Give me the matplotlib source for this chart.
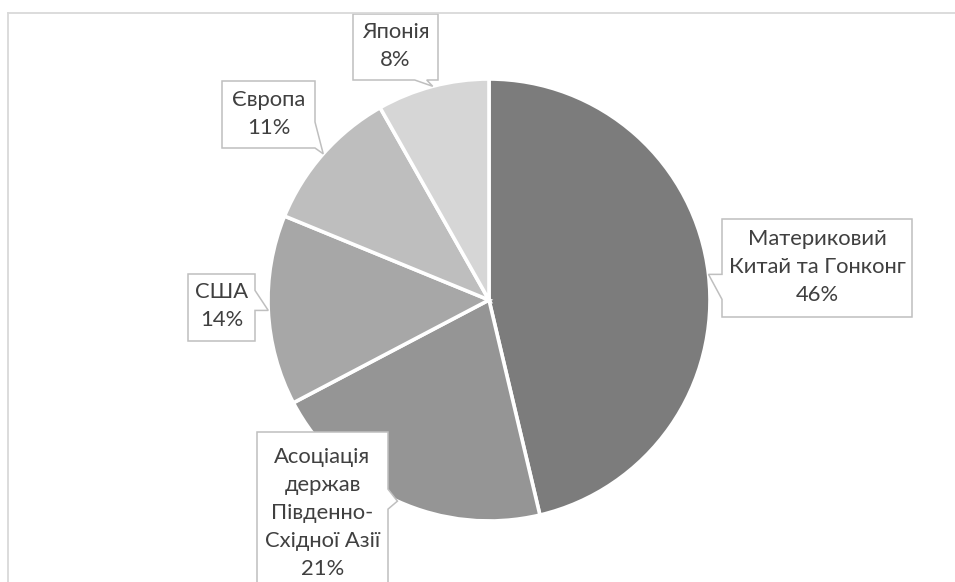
import numpy as np
import matplotlib
matplotlib.use('Agg')
import matplotlib.pyplot as plt
from matplotlib.patches import Polygon
from matplotlib.lines import Line2D

# data
labels = ['Материковий\nКитай та Гонконг',
          'Асоціація\nдержав\nПівденно-\nСхідної Азії',
          'США', 'Європа', 'Японія']
values = [46.3, 21.0, 13.9, 10.6, 8.2]
colors = ['#7c7c7c', '#959595', '#a7a7a7', '#bebebe', '#d6d6d6']

W, H = 955, 582
# callout boxes in image pixels: left, top, right, bottom, base offsets along side
boxes = [
    (722, 219, 912, 317, (0, 25)),
    (257, 432, 388, 594, (-12, 8)),
    (188, 274, 255, 341, (-20, 0)),
    (222, 81, 315, 148, (-26, 0)),
    (353, 14, 438, 80, (-18, -6)),
]
cx, cy, rad = 489, 300, 221

plt.rcParams['font.family'] = ['Lato', 'DejaVu Sans']

fig = plt.figure(figsize=(W / 100, H / 100), dpi=100)
ax = fig.add_axes([0, 0, 1, 1])

wedges, _ = ax.pie(values, colors=colors, startangle=90, counterclock=False,
                   center=(cx, H - cy), radius=rad,
                   wedgeprops=dict(edgecolor='white', linewidth=2.6))

ax.set_xlim(0, W)
ax.set_ylim(0, H)
ax.set_aspect('equal')
ax.set_axis_off()

total = sum(values)
start = 90.0
for lab, v, box in zip(labels, values, boxes):
    sweep = v / total * 360
    mid = np.deg2rad(start - sweep / 2)
    start -= sweep
    tx = cx + rad * np.cos(mid)
    ty = cy - rad * np.sin(mid)
    l, t, r, b, (o1, o2) = box
    # pick side facing the tip
    if tx > r:
        a = min(max(ty, t), b)
        pts = [(l, t), (r, t), (r, a + o1), (tx, ty), (r, a + o2), (r, b), (l, b)]
    elif tx < l:
        a = min(max(ty, t), b)
        pts = [(l, t), (r, t), (r, b), (l, b), (l, a + o2), (tx, ty), (l, a + o1)]
    else:
        a = min(max(tx, l), r)
        pts = [(l, t), (r, t), (r, b), (a + o2, b), (tx, ty), (a + o1, b), (l, b)]
    pts = [(x, H - y) for x, y in pts]
    ax.add_patch(Polygon(pts, closed=True, facecolor='white', edgecolor='#bfbfbf',
                         linewidth=1.1, zorder=5))
    ax.text((l + r) / 2, H - (t + b) / 2 + (1 if b < H else 0),
            f'{lab}\n{v:.0f}%', ha='center', va='center', fontsize=15.8,
            color='#404040', linespacing=1.5, zorder=6)

# chart border (cropped)
ax.add_line(Line2D([7.5, W], [H - 12.5, H - 12.5], color='#d9d9d9', lw=1.3, zorder=7))
ax.add_line(Line2D([7.5, 7.5], [0, H - 12.5], color='#d9d9d9', lw=1.3, zorder=7))

fig.savefig('out.png', dpi=100, facecolor='white')
